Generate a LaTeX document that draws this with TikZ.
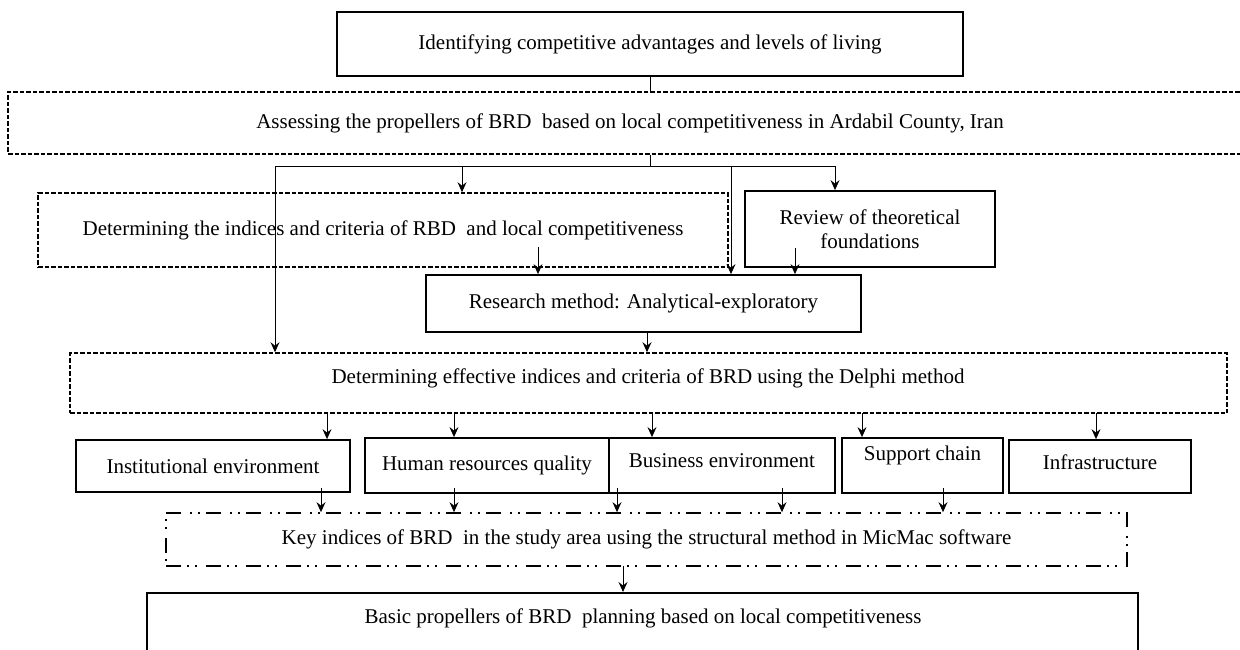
\documentclass[tikz,border=0pt]{standalone}
\usepackage{fontspec}
\setmainfont{Liberation Serif}
\usetikzlibrary{arrows.meta}
\newcommand\fsz{\fontsize{21}{24}\selectfont}
\begin{document}
\begin{tikzpicture}[x=1pt,y=-1pt,
  box/.style={draw, line width=1.8pt, rectangle, inner sep=0pt, align=center, font=\fsz},
  dbox/.style={box, line width=1.6pt, dash pattern=on 4.5pt off 2pt},
  kbox/.style={box, line width=1.7pt, dash pattern=on 15pt off 6pt on 2pt off 6pt on 2pt off 9pt},
  conn/.style={line width=0.9pt},
  arr/.style={conn, -{Stealth[length=10pt,width=9pt,inset=3.5pt]}},
  txt/.style={font=\fsz, inner sep=0pt, align=center}
]
\useasboundingbox (0,0) rectangle (1240,650);
\clip (0,0) rectangle (1240,650);
\fill[white] (0,0) rectangle (1240,650);

% boxes
\node[box, line width=2.2pt, minimum width=626, minimum height=64] (n1) at (650,44) {Identifying competitive advantages and levels of living};
\node[dbox, minimum width=1238, minimum height=62] (n2) at (627,123) {};
\node[txt] (t2) at (630,123) {Assessing the propellers of BRD\ \ based on local competitiveness in Ardabil County, Iran};
\node[dbox, minimum width=690, minimum height=74] (n3) at (383,230) {Determining the indices and criteria of RBD\ \ and local competitiveness};
\node[box, minimum width=250, minimum height=76] (n4) at (870,229) {Review of theoretical\\foundations};
\node[box, minimum width=435, minimum height=57] (n5) at (643.5,303.5) {Research method: Analytical-exploratory};
\node[dbox, minimum width=1157, minimum height=60] (n6) at (648.5,383) {};
\node[txt] (t6) at (648,378) {Determining effective indices and criteria of BRD using the Delphi method};
\node[box, minimum width=274, minimum height=52] (n7) at (213,466) {Institutional environment};
\node[box, minimum width=244, minimum height=55] (n8) at (487,465.5) {Human resources quality};
\node[box, minimum width=226, minimum height=55] (n9) at (722,465.5) {};
\node[txt] (t9) at (722,461) {Business environment};
\node[box, minimum width=161, minimum height=55] (n10) at (922.5,465.5) {};
\node[txt] (t10) at (922.5,455) {Support chain};
\node[box, minimum width=182, minimum height=53] (n11) at (1100,466.5) {};
\node[txt] (t11) at (1100,462) {Infrastructure};
\node[kbox, minimum width=961, minimum height=53] (n12) at (646.5,539.5) {Key indices of BRD\ \ in the study area using the structural method in MicMac software};
\node[box, anchor=north, minimum width=991, minimum height=80] (n13) at (642.5,592) {};
\node[txt] (t13) at (643,618) {Basic propellers of BRD\ \ planning based on local competitiveness};

% connectors
\draw[conn] (n1.south) -- (n1.south |- n2.north);
\coordinate (j) at (650,166);
\coordinate (jl) at (275,166);
\coordinate (jr) at (835,166);
\draw[conn] (n2.south -| j) -- (j);
\draw[conn] (jl) -- (jr);
\coordinate (a3) at (462,166);
\coordinate (a5) at (731,166);
\draw[arr] (a3) -- (a3 |- n3.north);
\draw[arr] (a5) -- (a5 |- n5.north);
\draw[arr] (jr) -- (jr |- n4.north);
\draw[arr] (jl) -- (jl |- n6.north);
\coordinate (b3) at (538,247);
\coordinate (b4) at (795,248);
\coordinate (b5) at (647,332);
\draw[arr] (b3) -- (b3 |- n5.north);
\draw[arr] (b4) -- (b4 |- n5.north);
\draw[arr] (b5) -- (b5 |- n6.north);

\coordinate (d7) at (327,413);
\coordinate (d8) at (454,413);
\coordinate (d9) at (652,413);
\coordinate (d10) at (862,413);
\coordinate (d11) at (1096,413);
\draw[arr] (d7) -- (d7 |- n7.north);
\draw[arr] (d8) -- (d8 |- n8.north);
\draw[arr] (d9) -- (d9 |- n9.north);
\draw[arr] (d10) -- (d10 |- n10.north);
\draw[arr] (d11) -- (d11 |- n11.north);

\coordinate (e7) at (321,488);
\coordinate (e8) at (454,488);
\coordinate (e9a) at (617,488);
\coordinate (e9b) at (782,488);
\coordinate (e10) at (943,488);
\draw[arr] (e7) -- (e7 |- n12.north);
\draw[arr] (e8) -- (e8 |- n12.north);
\draw[arr] (e9a) -- (e9a |- n12.north);
\draw[arr] (e9b) -- (e9b |- n12.north);
\draw[arr] (e10) -- (e10 |- n12.north);

\coordinate (k) at (623,566);
\draw[arr] (k) -- (k |- n13.north);
\end{tikzpicture}
\end{document}
